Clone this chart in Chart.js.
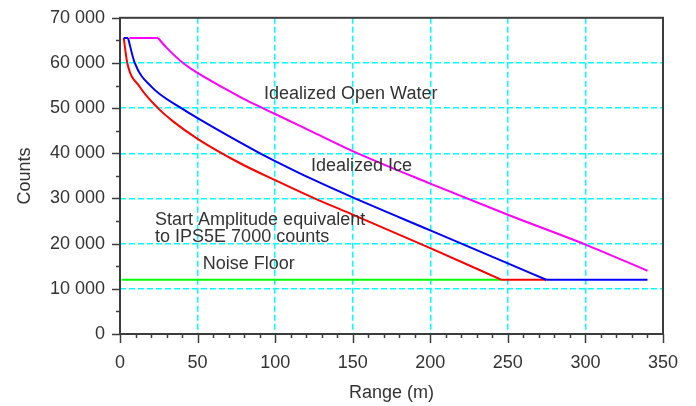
<!DOCTYPE html>
<html>
<head>
<meta charset="utf-8">
<script src="https://cdn.jsdelivr.net/npm/chart.js@4/dist/chart.umd.min.js"></script>
<style>
  body { margin: 0; background: #fff; }
</style>
</head>
<body>
<canvas id="grafico" width="696" height="406"></canvas>
<script>
// datos
const rangeWater = [6, 24.5, 30, 40.6, 50, 65, 80, 92, 100, 125, 150, 200, 250, 300, 340];
const countsWater = [65535, 65535, 63400, 60000, 57800, 54800, 52000, 50000, 48700, 44600, 40500, 33300, 26400, 19800, 14000];

const rangeIce = [2.4, 5.2, 9.5, 20.2, 39.5, 50, 90.3, 100, 125, 150, 200, 250, 274.8, 340];
const countsIce = [65535, 65535, 60000, 54750, 50000, 47800, 40000, 38290, 34100, 30240, 22930, 15620, 12000, 12000];

const rangeStart = [2.4, 4.7, 12.7, 24.5, 34.2, 50, 77.4, 100, 126.8, 150, 200, 246, 274.8];
const countsStart = [65535, 60000, 54750, 50000, 47070, 43200, 37800, 34050, 29800, 26440, 19000, 12000, 12000];

const rangeNoise = [1, 246];
const countsNoise = [12000, 12000];

const xTicks = [0, 50, 100, 150, 200, 250, 300, 350];
const yTicks = [0, 10000, 20000, 30000, 40000, 50000, 60000, 70000];

// textos dentro del grafico (en coordenadas de datos)
const noteText = ["Idealized Open Water", "Idealized Ice", "Start Amplitude equivalent", "to IPS5E 7000 counts", "Noise Floor"];
const noteX = [92.8, 123.1, 22.6, 22.6, 53.3];
const noteY = [52100, 36100, 24030, 20360, 14300];

const FONT = '"Liberation Sans", Arial, sans-serif';
const ctx = document.getElementById("grafico").getContext("2d");

// un tramo de la serie, de i0 a i1 (incluidos)
function tramo(xs, ys, i0, i1, color, curvo) {
    const pts = [];
    for (let i = i0; i <= i1; i++) pts.push({x: xs[i], y: ys[i]});
    return {
        data: pts,
        borderColor: color,
        borderWidth: 2,
        pointRadius: 0,
        fill: false,
        cubicInterpolationMode: curvo ? "monotone" : "default",
        tension: 0
    };
}

function miles(v) {
    return String(v).replace(/\B(?=(\d{3})+(?!\d))/g, " ");
}

const marco = {
    id: "marco",
    afterDraw(chart) {
        const c = chart.ctx;
        const a = chart.chartArea;
        const x = chart.scales.x;
        const y = chart.scales.y;
        c.save();
        c.strokeStyle = "#3c3c3c";
        c.lineWidth = 1.5;
        // marcas menores y mayores
        for (let v = 0; v <= 350; v += 10) {
            const px = Math.round(x.getPixelForValue(v)) + 0.5;
            c.beginPath();
            c.moveTo(px, a.bottom);
            c.lineTo(px, a.bottom + (v % 50 ? 4 : 9));
            c.stroke();
        }
        for (let v = 0; v <= 70000; v += 5000) {
            const py = Math.round(y.getPixelForValue(v)) + 0.5;
            c.beginPath();
            c.moveTo(a.left, py);
            c.lineTo(a.left - (v % 10000 ? 4 : 8), py);
            c.stroke();
        }
        c.lineWidth = 2;
        c.strokeRect(a.left, a.top, a.right - a.left, a.bottom - a.top);
        c.fillStyle = "#333";
        c.font = "18px " + FONT;
        c.textBaseline = "alphabetic";
        c.textAlign = "left";
        noteText.forEach((t, i) => {
            c.fillText(t, x.getPixelForValue(noteX[i]), y.getPixelForValue(noteY[i]));
        });
        c.restore();
    }
};

function gridColor(lo, hi) {
    return (s) => (s.tick && (s.tick.value === lo || s.tick.value === hi)) ? "rgba(0,0,0,0)" : "#00ffff";
}

const nW = rangeWater.length - 1;
const nI = rangeIce.length - 1;
const nS = rangeStart.length - 1;

// el primero queda encima
const myChart = new Chart(ctx, {
    type: "line",
    data: {
        datasets: [
            tramo(rangeWater, countsWater, 1, nW, "#ff00ff", true),
            tramo(rangeWater, countsWater, 0, 1, "#ff00ff", false),
            tramo(rangeIce, countsIce, 0, 1, "#0000ff", false),
            tramo(rangeIce, countsIce, 1, nI - 1, "#0000ff", true),
            tramo(rangeIce, countsIce, nI - 1, nI, "#0000ff", false),
            tramo(rangeStart, countsStart, 0, nS - 1, "#ff0000", true),
            tramo(rangeStart, countsStart, nS - 1, nS, "#ff0000", false),
            tramo(rangeNoise, countsNoise, 0, 1, "#00ff00", false)
        ]
    },
    options: {
        responsive: false,
        animation: false,
        devicePixelRatio: 1,
        layout: { padding: { top: 16, right: 33, left: 0, bottom: 0 } },
        plugins: {
            legend: { display: false },
            tooltip: { enabled: false }
        },
        scales: {
            x: {
                type: "linear",
                min: 0,
                max: 350,
                afterBuildTicks: (s) => { s.ticks = xTicks.map(v => ({value: v})); },
                afterFit: (s) => { s.height = 72; },
                grid: {
                    color: gridColor(0, 350),
                    lineWidth: 1.5,
                    tickColor: "rgba(0,0,0,0)",
                    tickLength: 9
                },
                border: { display: false, dash: [6, 3] },
                ticks: {
                    color: "#333",
                    padding: 9,
                    maxRotation: 0,
                    font: { family: FONT, size: 18 }
                },
                title: {
                    display: true,
                    text: "Range (m)",
                    color: "#333",
                    padding: { top: 0, bottom: 2 },
                    font: { family: FONT, size: 18 }
                }
            },
            y: {
                type: "linear",
                min: 0,
                max: 70000,
                afterBuildTicks: (s) => { s.ticks = yTicks.map(v => ({value: v})); },
                afterFit: (s) => { s.width = 120; },
                grid: {
                    color: gridColor(0, 70000),
                    lineWidth: 1.5,
                    tickColor: "rgba(0,0,0,0)",
                    tickLength: 8
                },
                border: { display: false, dash: [6, 3] },
                ticks: {
                    color: "#333",
                    padding: 7,
                    callback: (v) => miles(v),
                    font: { family: FONT, size: 18 }
                },
                title: {
                    display: true,
                    text: "Counts",
                    color: "#333",
                    padding: { top: 14, bottom: 0 },
                    font: { family: FONT, size: 18 }
                }
            }
        }
    },
    plugins: [marco]
});
</script>
</body>
</html>
